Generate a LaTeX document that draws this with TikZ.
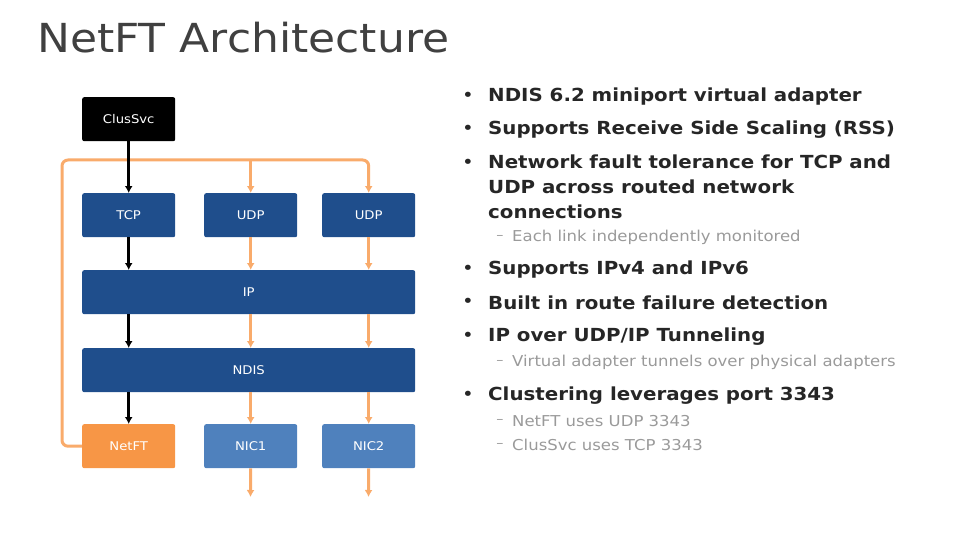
\documentclass[tikz,border=0pt]{standalone}
\usepackage{fontspec}
\setmainfont[FakeStretch=1.1]{DejaVu Sans}
\usetikzlibrary{positioning,arrows.meta}
\definecolor{stackblue}{HTML}{1F4E8C}
\definecolor{nicblue}{HTML}{4F81BD}
\definecolor{ftorange}{HTML}{F79646}
\definecolor{titlegray}{HTML}{404040}
\definecolor{bodygray}{HTML}{262626}
\definecolor{subgray}{HTML}{9A9A9A}
\tikzset{
  layer/.style={rounded corners=2pt, text=white, font=\fontsize{12}{14}\selectfont, inner sep=0pt, anchor=north west},
  smallbox/.style={layer, minimum width=93pt, minimum height=44pt},
  widebox/.style={layer, minimum width=333pt, minimum height=44pt, fill=stackblue},
  svcline/.style={line width=3pt, draw=black, -{Latex[length=7pt,width=8pt]}},
  ftline/.style={line width=3pt, draw=ftorange!80, -{Latex[length=7pt,width=8pt]}},
  point/.style={anchor=west, text=bodygray, font=\bfseries\fontsize{18}{25}\selectfont, inner sep=0pt},
  subpoint/.style={anchor=west, text=subgray, font=\fontsize{15}{17}\selectfont, inner sep=0pt},
  dot/.style={anchor=center, text=bodygray, font=\fontsize{18}{18}\selectfont, inner sep=0pt}
}
\begin{document}
\begin{tikzpicture}[x=1pt, y=-1pt]
  \useasboundingbox (0,0) rectangle (960,540);

  \node[anchor=west, inner sep=0pt, text=titlegray, font=\fontsize{40}{44}\selectfont] (title) at (37,38) {NetFT Architecture};

  % protocol stack
  \node[smallbox, fill=black] (clussvc) at (82,97) {ClusSvc};
  \node[smallbox, fill=stackblue] (tcp) at (82,193) {TCP};
  \node[smallbox, fill=stackblue] (udp1) at (204,193) {UDP};
  \node[smallbox, fill=stackblue] (udp2) at (322,193) {UDP};
  \node[widebox] (ip) at (82,270) {IP};
  \node[widebox] (ndis) at (82,348) {NDIS};
  \node[smallbox, fill=ftorange] (netft) at (82,424) {NetFT};
  \node[smallbox, fill=nicblue] (nic1) at (204,424) {NIC1};
  \node[smallbox, fill=nicblue] (nic2) at (322,424) {NIC2};

  \coordinate (bus) at (62,160);
  \coordinate (out1) at (250.5,497);
  \coordinate (out2) at (368.5,497);

  % NetFT loop back to the UDP sockets
  \draw[ftline, rounded corners=6pt] (netft.west) -| (bus) -| (udp2.north);
  \draw[ftline] (udp1.north |- bus) -- (udp1.north);

  \draw[svcline] (clussvc.south) -- (tcp.north);
  \draw[svcline] (tcp.south) -- (tcp.south |- ip.north);
  \draw[svcline] (tcp.south |- ip.south) -- (tcp.south |- ndis.north);
  \draw[svcline] (tcp.south |- ndis.south) -- (netft.north);

  \draw[ftline] (udp1.south) -- (udp1.south |- ip.north);
  \draw[ftline] (udp2.south) -- (udp2.south |- ip.north);
  \draw[ftline] (udp1.south |- ip.south) -- (udp1.south |- ndis.north);
  \draw[ftline] (udp2.south |- ip.south) -- (udp2.south |- ndis.north);
  \draw[ftline] (udp1.south |- ndis.south) -- (nic1.north);
  \draw[ftline] (udp2.south |- ndis.south) -- (nic2.north);
  \draw[ftline] (nic1.south) -- (out1);
  \draw[ftline] (nic2.south) -- (out2);

  % bullet list
  \node[point] (b1) at (488,97) {NDIS 6.2 miniport virtual adapter};
  \node[point] (b2) at (488,130) {Supports Receive Side Scaling (RSS)};
  \node[point, anchor=north west, align=left] (b3) at (488,155) {Network fault tolerance for TCP and\\UDP across routed network\\connections};
  \node[subpoint] (s3) at (512,237) {Each link independently monitored};
  \node[point] (b4) at (488,270) {Supports IPv4 and IPv6};
  \node[point] (b5) at (488,303) {Built in route failure detection};
  \node[point] (b6) at (488,337) {IP over UDP/IP Tunneling};
  \node[subpoint] (s6) at (512,362) {Virtual adapter tunnels over physical adapters};
  \node[point] (b7) at (488,396) {Clustering leverages port 3343};
  \node[subpoint] (s7a) at (512,421) {NetFT uses UDP 3343};
  \node[subpoint] (s7b) at (512,445) {ClusSvc uses TCP 3343};

  \foreach \n in {b1,b2,b4,b5,b6,b7} \node[dot] at (468,0 |- \n.west) {•};
  \node[dot] at (468,164) {•};
  \foreach \n in {s3,s6,s7a,s7b} \node[dot, text=subgray, font=\fontsize{13}{13}\selectfont] at (500,0 |- \n.west) {–};
\end{tikzpicture}
\end{document}
